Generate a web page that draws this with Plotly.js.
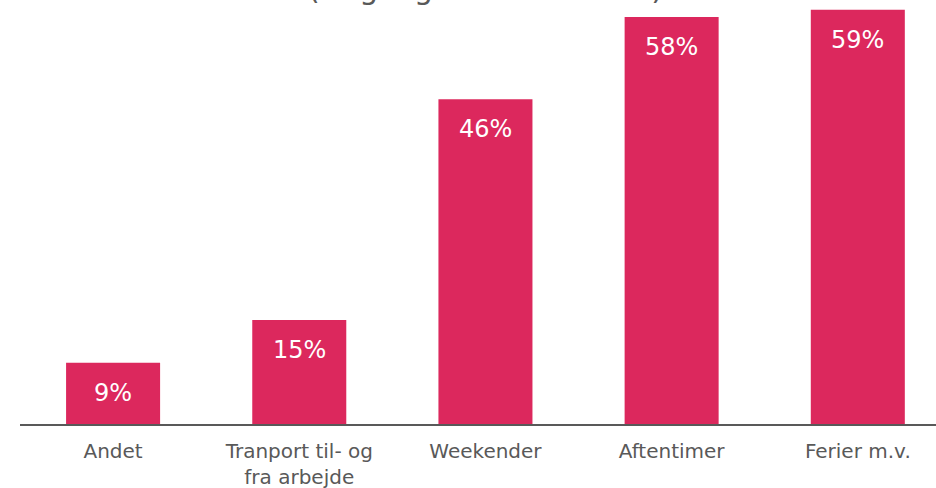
<!DOCTYPE html>
<html>
<head>
<meta charset="utf-8">
<script src="https://cdn.plot.ly/plotly-3.0.1.min.js"></script>
<style>html,body{margin:0;padding:0;background:#fff;}#chart{width:936px;height:488px;}</style>
</head>
<body>
<div id="chart"></div>
<script>
const categories = ["Andet", "Tranport til- og<br>fra arbejde", "Weekender", "Aftentimer", "Ferier m.v."];
const values = [8.7, 14.8, 46.2, 57.9, 58.9];
const valueLabels = ["9%", "15%", "46%", "58%", "59%"];
const titleText = "(Angiv gerne flere svar)";

const barColor = "#DC285D";
const fontFam = "DejaVu Sans, Verdana, sans-serif";

const annotations = categories.map((c, i) => ({
  x: c, y: values[i], xref: "x", yref: "y",
  text: valueLabels[i], showarrow: false,
  yanchor: "top", yshift: -14,
  font: {family: fontFam, size: 24, color: "#ffffff"}
}));

// cut-off title at the top edge, as in the reference
annotations.push({
  text: titleText, xref: "paper", yref: "paper", x: 0.508, y: 1,
  xanchor: "center", yanchor: "bottom", yshift: -8, showarrow: false,
  font: {family: fontFam, size: 30, color: "#595959"}
});

const data = [{
  type: "bar", x: categories, y: values,
  marker: {color: barColor},
  hoverinfo: "skip"
}];

const layout = {
  width: 936, height: 488,
  margin: {l: 20, r: 0, t: 0, b: 64},
  paper_bgcolor: "#ffffff", plot_bgcolor: "#ffffff",
  bargap: 0.495,
  showlegend: false,
  xaxis: {
    type: "category", range: [-0.5, 4.42],
    showline: true, linecolor: "#595959", linewidth: 2,
    ticks: "", showgrid: false, zeroline: false,
    ticklabelstandoff: 8,
    tickfont: {family: fontFam, size: 20, color: "#595959"}
  },
  yaxis: {
    range: [0, 60.3], visible: false, showgrid: false, zeroline: false
  },
  annotations: annotations
};

Plotly.newPlot("chart", data, layout, {displayModeBar: false, staticPlot: true});
</script>
</body>
</html>
